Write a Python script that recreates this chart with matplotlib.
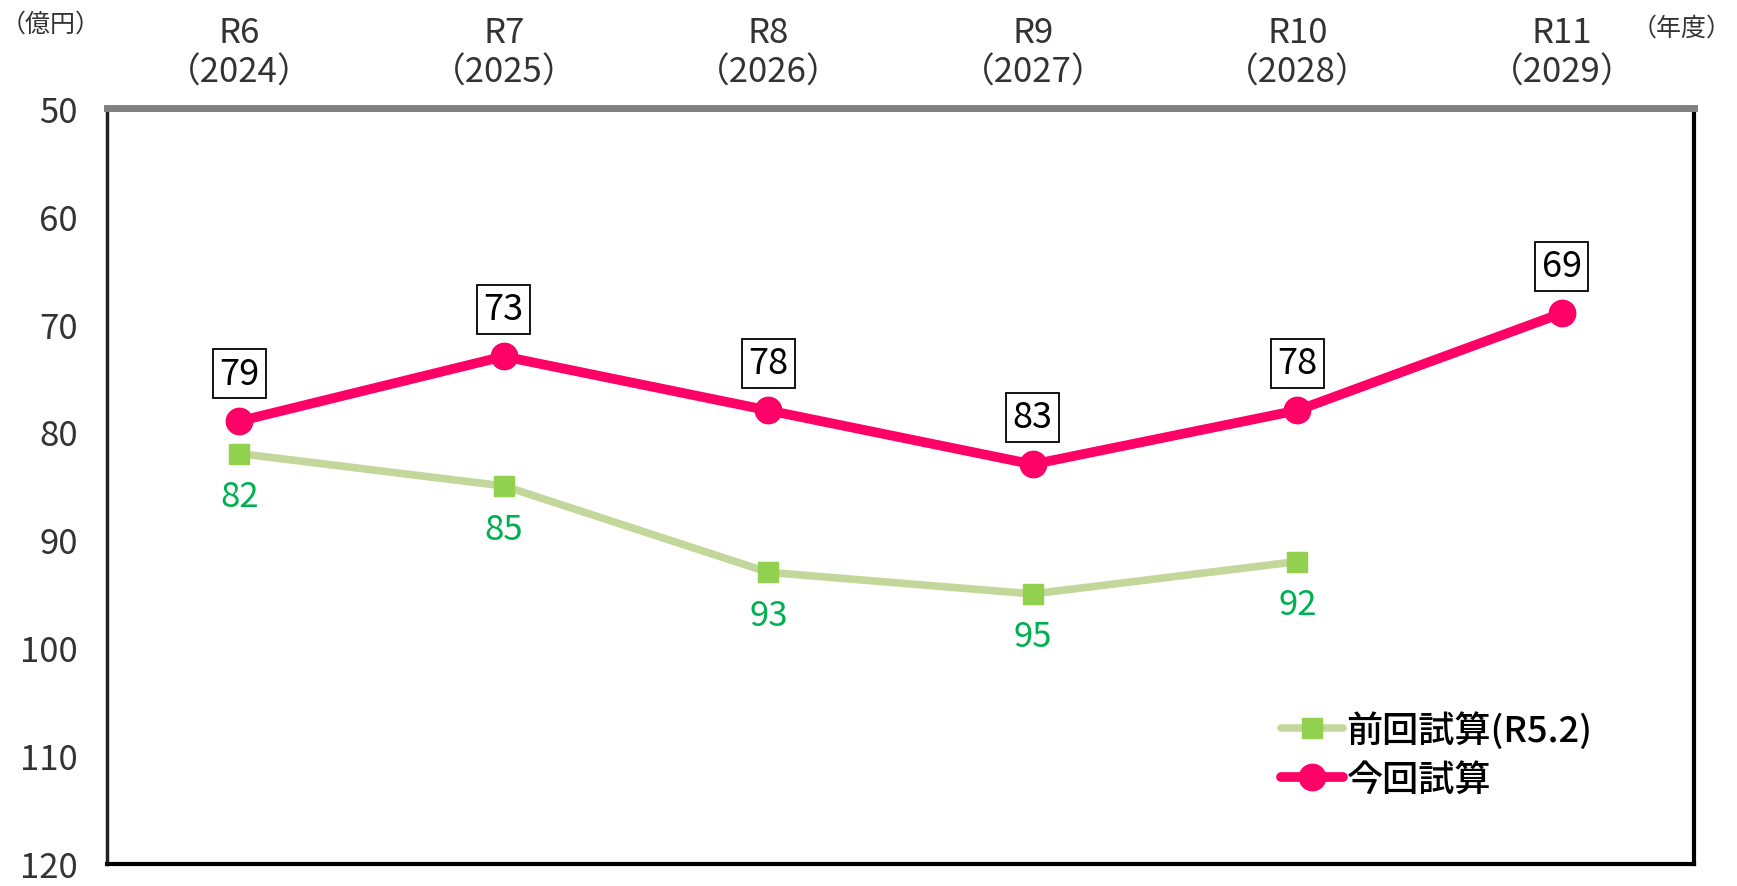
import numpy as np
import matplotlib.pyplot as plt

plt.rcParams['font.family'] = ['Noto Sans CJK JP', 'DejaVu Sans']

# data
years = ["R6\n（2024）", "R7\n（2025）", "R8\n（2026）", "R9\n（2027）", "R10\n（2028）", "R11\n（2029）"]
prev_vals = [82, 85, 93, 95, 92]        # 前回試算(R5.2), R6-R10
curr_vals = [79, 73, 78, 83, 78, 69]    # 今回試算, R6-R11
prev_label = "前回試算(R5.2)"
curr_label = "今回試算"
yticks = [50, 60, 70, 80, 90, 100, 110, 120]

fig = plt.figure(figsize=(17.37, 8.87), dpi=100)
ax = fig.add_axes([0.0616, 0.025, 0.9137, 0.852])

x_prev = np.arange(len(prev_vals))
x_curr = np.arange(len(curr_vals))

ax.plot(x_prev, prev_vals, color='#C4D79B', lw=5.5, marker='s', ms=15,
        mfc='#92D050', mec='#92D050', label=prev_label, solid_capstyle='round', zorder=3)
ax.plot(x_curr, curr_vals, color='#FF0066', lw=7, marker='o', ms=19,
        mfc='#FF0066', mec='#FF0066', label=curr_label, solid_capstyle='round', zorder=4)

for xi, v in zip(x_prev, prev_vals):
    ax.annotate(str(v), (xi, v), xytext=(0, -31), textcoords='offset points',
                ha='center', va='center', fontsize=25, color='#00B050')
for xi, v in zip(x_curr, curr_vals):
    ax.annotate(str(v), (xi, v), xytext=(0, 34), textcoords='offset points',
                ha='center', va='center', fontsize=26, color='black',
                bbox=dict(boxstyle='square,pad=0.18', fc='white', ec='black', lw=1.3))

ax.set_xlim(-0.5, len(years) - 0.5)
ax.set_ylim(120, 50)
ax.set_yticks(yticks)
ax.set_xticks(x_curr)
ax.set_xticklabels(years, linespacing=1.2)
ax.xaxis.tick_top()
ax.tick_params(axis='x', length=0, pad=13, labelsize=25, labelcolor='#333333')
ax.tick_params(axis='y', length=0, pad=21, labelsize=25, labelcolor='#333333')

ax.spines['top'].set_color('#808080')
ax.spines['top'].set_linewidth(5)
ax.spines['left'].set_color('#222222')
ax.spines['left'].set_linewidth(2.5)
ax.spines['right'].set_color('black')
ax.spines['right'].set_linewidth(3)
ax.spines['bottom'].set_color('black')
ax.spines['bottom'].set_linewidth(3)

fig.text(0.029, 0.972, "（億円）", ha='center', va='center', fontsize=18, color='#333333')
fig.text(0.997, 0.968, "（年度）", ha='right', va='center', fontsize=18, color='#333333')

ax.legend(loc='center left', bbox_to_anchor=(0.74, 0.145), frameon=False,
          prop={'size': 26, 'weight': 'medium'}, handlelength=1.7, handletextpad=0.1,
          labelspacing=0.35, borderpad=0, borderaxespad=0)

fig.savefig("out.png", dpi=100)
